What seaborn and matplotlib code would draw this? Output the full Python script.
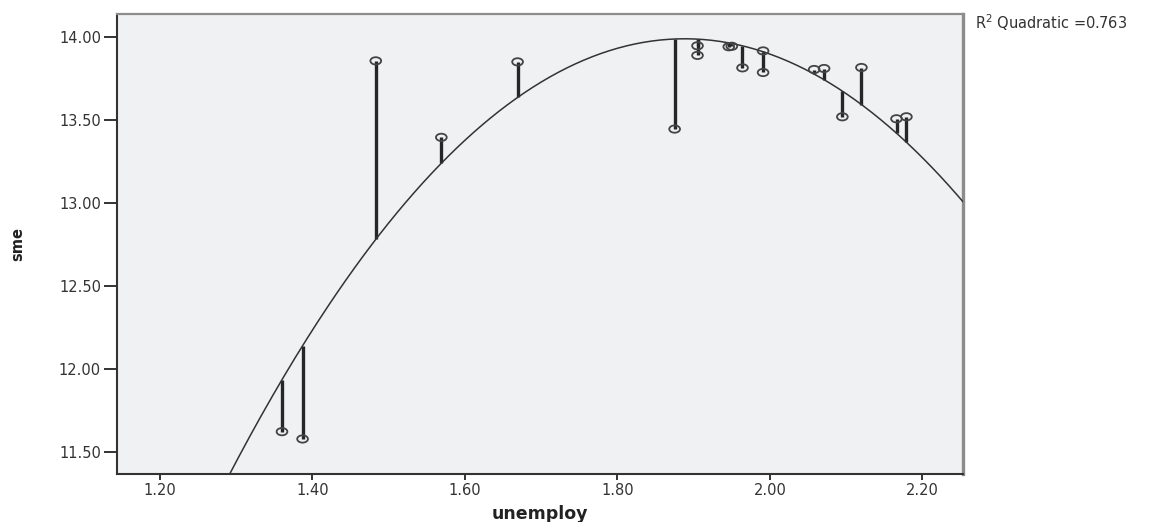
import numpy as np
import pandas as pd
import seaborn as sns
import matplotlib
matplotlib.use("Agg")
import matplotlib.pyplot as plt
from matplotlib.ticker import FormatStrFormatter
from matplotlib.path import Path
from matplotlib.transforms import Affine2D

unemploy = [1.360, 1.387, 1.483, 1.569, 1.669, 1.875, 1.905, 1.905, 1.946, 1.950,
            1.964, 1.991, 1.991, 2.058, 2.071, 2.095, 2.120, 2.166, 2.179]
sme = [11.622, 11.578, 13.857, 13.396, 13.851, 13.446, 13.948, 13.890, 13.942, 13.945,
       13.815, 13.917, 13.787, 13.805, 13.811, 13.520, 13.817, 13.508, 13.520]

x_ticks = [1.20, 1.40, 1.60, 1.80, 2.00, 2.20]
y_ticks = [11.50, 12.00, 12.50, 13.00, 13.50, 14.00]
r2_label = "R$^2$ Quadratic =0.763"

df = pd.DataFrame({"unemploy": unemploy, "sme": sme})

# quadratic fit, same as the SPSS fit line
coef = np.polyfit(df["unemploy"], df["sme"], 2)
df["fitted"] = np.polyval(coef, df["unemploy"])

sns.set_style("white")
plt.rcParams["font.family"] = ["DejaVu Sans"]

fig = plt.figure(figsize=(11.7, 5.22), dpi=100)
ax = fig.add_axes([0.1, 0.092, 0.723, 0.881])
ax.set_facecolor("#f0f1f3")

xlim = (1.1436, 2.2531)
ylim = (11.367, 14.139)

# drop lines from each point to the fit
ax.vlines(df["unemploy"], df["sme"], df["fitted"], color="#262626", lw=2.4, zorder=2)

curve = pd.DataFrame({"unemploy": np.linspace(xlim[0], xlim[1], 300)})
curve["sme"] = np.polyval(coef, curve["unemploy"])
sns.lineplot(data=curve, x="unemploy", y="sme", color="#333333", lw=1.1, ax=ax, zorder=3)

# SPSS open circles come out slightly flattened
ellipse = Path.unit_circle().transformed(Affine2D().scale(1.0, 0.68))
sns.scatterplot(data=df, x="unemploy", y="sme", ax=ax, marker=ellipse, s=60,
                facecolor="none", edgecolor="#444444", linewidth=1.3, zorder=4)

ax.set_xlim(xlim)
ax.set_ylim(ylim)
ax.set_xticks(x_ticks)
ax.set_yticks(y_ticks)
ax.xaxis.set_major_formatter(FormatStrFormatter("%.2f"))
ax.yaxis.set_major_formatter(FormatStrFormatter("%.2f"))
ax.tick_params(axis="y", direction="out", length=9.5, width=1.4, pad=2,
               labelsize=10.5, colors="#333333", left=True)
ax.tick_params(axis="x", direction="out", length=4.5, width=1.4, pad=2,
               labelsize=10.5, colors="#333333", bottom=True)

for side in ["left", "bottom"]:
    ax.spines[side].set_color("#333333")
    ax.spines[side].set_linewidth(1.5)
ax.spines["top"].set_color("#8c8c8c")
ax.spines["top"].set_linewidth(1.6)
ax.spines["right"].set_color("#8c8c8c")
ax.spines["right"].set_linewidth(2.4)

ax.set_xlabel("unemploy", fontsize=12.5, fontweight="bold", color="#222222", labelpad=5)
ax.set_ylabel("sme", fontsize=10.5, fontweight="bold", color="#222222", labelpad=24)

fig.text(975 / 1170, 1 - 23 / 522, r2_label, fontsize=10.5, color="#333333",
         ha="left", va="center")

fig.savefig("out.png", dpi=100)
